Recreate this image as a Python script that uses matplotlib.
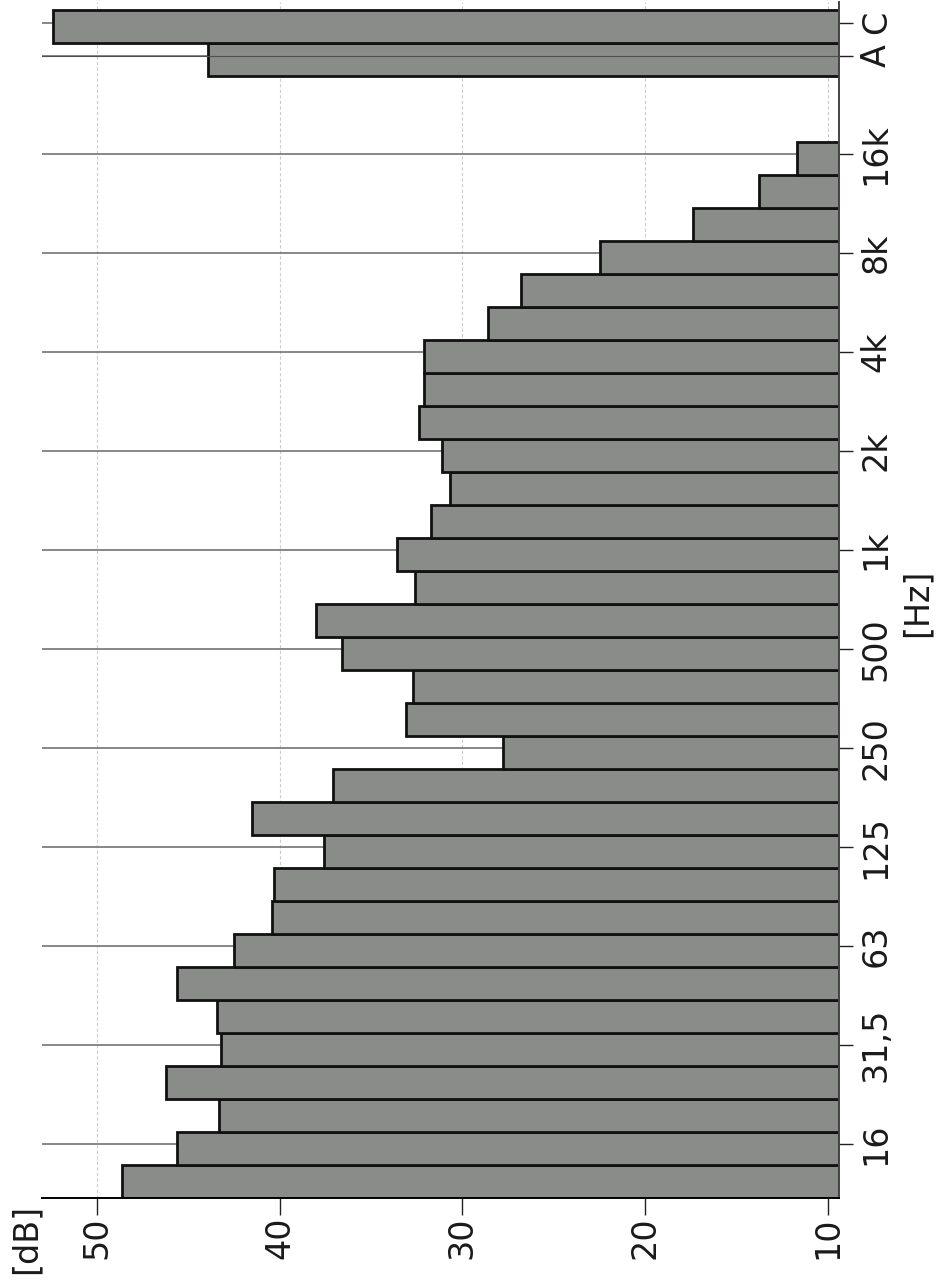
import matplotlib
matplotlib.use('Agg')
import matplotlib.pyplot as plt
import numpy as np

# Terzbaender (Hz) und Pegel in dB
bands = ['12,5', '16', '20', '25', '31,5', '40', '50', '63', '80', '100',
         '125', '160', '200', '250', '315', '400', '500', '630', '800', '1k',
         '1,25k', '1,6k', '2k', '2,5k', '3,15k', '4k', '5k', '6,3k', '8k',
         '10k', '12,5k', '16k']
levels = [48.6, 45.6, 43.3, 46.2, 43.2, 43.4, 45.6, 42.5, 40.4, 40.3,
          37.6, 41.5, 37.1, 27.8, 33.1, 32.7, 36.6, 38.0, 32.6, 33.6,
          31.7, 30.7, 31.1, 32.4, 32.1, 32.1, 28.6, 26.8, 22.5,
          17.4, 13.8, 11.7]
# Summenpegel
weights = ['A', 'C']
weight_levels = [43.9, 52.4]

# beschriftete Oktaven auf der Frequenzachse
octave_labels = ['16', '31,5', '63', '125', '250', '500', '1k', '2k', '4k',
                 '8k', '16k']
db_ticks = [10, 20, 30, 40, 50]

base = 9.4          # Grundlinie der Balken
pos = np.arange(len(bands))
pos_w = np.array([len(bands) + 2, len(bands) + 3])

plt.rcParams['font.family'] = ['DejaVu Sans']
fig = plt.figure(figsize=(9.37, 12.86), dpi=100)
ax = fig.add_axes([42/937, 88/1286, 797/937, 1196/1286])

bar_color = '#898c89'
ax.barh(pos, np.array(levels) - base, left=base, height=1.0,
        color=bar_color, edgecolor='#111111', linewidth=2.0, zorder=2)
ax.barh(pos_w, np.array(weight_levels) - base, left=base, height=1.0,
        color=bar_color, edgecolor='#111111', linewidth=2.0, zorder=2)

# Tickpositionen (leicht ueber der Balkenmitte, wie im Original)
tick_pos = [bands.index(b) + 0.14 for b in octave_labels] + list(pos_w + 0.12)
tick_lab = octave_labels + weights

# Gitter: dB hell gestrichelt, Oktaven dunkler
for v in db_ticks:
    ax.axvline(v, color='#cccccc', lw=0.8, ls=(0, (3, 2)), zorder=0)
for p in tick_pos:
    ax.axhline(p, color='#737373', lw=1.2, zorder=1)
ax.axhline(tick_pos[-2], color='#505050', lw=0.8, zorder=3)

ax.set_xlim(53.0, base)
ax.set_ylim(-0.5, 35.75)

ax.set_xticks(db_ticks)
ax.set_xticklabels([str(v) for v in db_ticks], rotation=90, fontsize=24,
                   va='top', ha='center')
ax.yaxis.tick_right()
ax.set_yticks(tick_pos)
ax.set_yticklabels(tick_lab, rotation=90, fontsize=24, va='center',
                   ha='left')

ax.tick_params(axis='x', length=12, width=1.0, pad=1.5, colors='#222222')
ax.tick_params(axis='y', length=10, width=1.0, pad=5, colors='#222222')
for lab in ax.get_xticklabels() + ax.get_yticklabels():
    lab.set_color('#1a1a1a')

for s in ['left', 'top']:
    ax.spines[s].set_visible(False)
ax.spines['bottom'].set_linewidth(1.4)
ax.spines['right'].set_linewidth(1.4)
ax.spines['right'].set_color('#444444')

# Achsenbeschriftungen
fig.text(917/937, 1 - 603/1286, '[Hz]', rotation=90, fontsize=24,
         ha='center', va='center', color='#1a1a1a')
fig.text(26/937, 1 - 1239/1286, '[dB]', rotation=90, fontsize=24,
         ha='center', va='center', color='#1a1a1a')

fig.savefig('out.png', dpi=100)
